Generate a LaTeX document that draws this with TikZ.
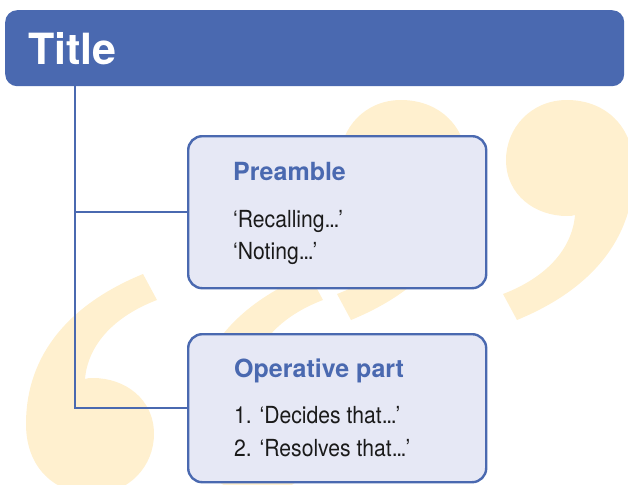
\documentclass[tikz,border=0pt]{standalone}
\usepackage{fontspec}
\setmainfont{TeX Gyre Heros}
\newfontfamily\entryfont[FakeStretch=0.9]{TeX Gyre Heros}
\usetikzlibrary{positioning}

\definecolor{resblue}{HTML}{4A69B0}
\definecolor{resfill}{HTML}{E6E8F5}
\definecolor{quoteyellow}{HTML}{FFF0CF}
\definecolor{inktext}{HTML}{1A1A1A}

\newcommand\tightdots{.\kern-0.06em.\kern-0.06em.}

\tikzset{
  quote nine/.pic={
    \fill[quoteyellow] (-50,160) .. controls (23,130) and (67,80) .. (67,10)
      .. controls (67,-35) and (37,-60) .. (0,-60)
      .. controls (-36,-60) and (-61,-32) .. (-61,0)
      .. controls (-61,35) and (-32,56) .. (0,56)
      .. controls (3,56) and (6,56) .. (8,55)
      .. controls (5,90) and (-22,118) .. (-64,134) -- cycle;
  },
  titlebar/.style={fill=resblue, rounded corners=12pt, anchor=north west,
    minimum width=619pt, minimum height=76pt, inner xsep=23pt, inner ysep=0pt,
    text width=573pt, align=left, text=white,
    font=\bfseries\fontsize{43}{50}\selectfont},
  part/.style={draw=resblue, line width=2.4pt, fill=resfill, rounded corners=14pt,
    anchor=north west, minimum width=298pt, inner sep=0pt},
  heading/.style={anchor=base west, inner sep=0pt, text=resblue,
    font=\bfseries\fontsize{25}{30}\selectfont},
  entry/.style={anchor=base west, inner sep=0pt, text=inktext,
    font=\entryfont\fontsize{23.5}{28}\selectfont},
  link/.style={draw=resblue, line width=2.4pt}
}

\begin{document}
\begin{tikzpicture}[x=1pt, y=-1pt]
  \useasboundingbox (0,0) rectangle (628,484);

  % quote marks in the background
  \begin{scope}
    \clip (0,0) rectangle (628,484);
    \pic at (567,160) {quote nine};
    \pic at (401,160) {quote nine};
    \pic[rotate=180] at (93,434) {quote nine};
    \pic[rotate=180] at (259,434) {quote nine};
  \end{scope}

  \coordinate (trunk) at (75,0);

  \node[titlebar] (title) at (5,10) {Title};
  \node[part, minimum height=152pt] (preamble) at (187,135) {};
  \node[part, minimum height=148pt] (operative) at (187,333) {};

  \draw[link] (title.south -| trunk) |- (operative.west);
  \draw[link] (trunk |- preamble.west) -- (preamble.west);

  \node[heading] (preambleHead) at (233,180) {Preamble};
  \node[entry] (recalling) at (233,227) {‘Recalling\tightdots’};
  \node[entry] (noting) at (233,259) {‘Noting\tightdots’};

  \node[heading] (operativeHead) at (234,377) {Operative part};
  \node[entry] (decides) at (234,423) {1. ‘Decides that\tightdots’};
  \node[entry] (resolves) at (234,456) {2. ‘Resolves that\tightdots’};
\end{tikzpicture}
\end{document}
